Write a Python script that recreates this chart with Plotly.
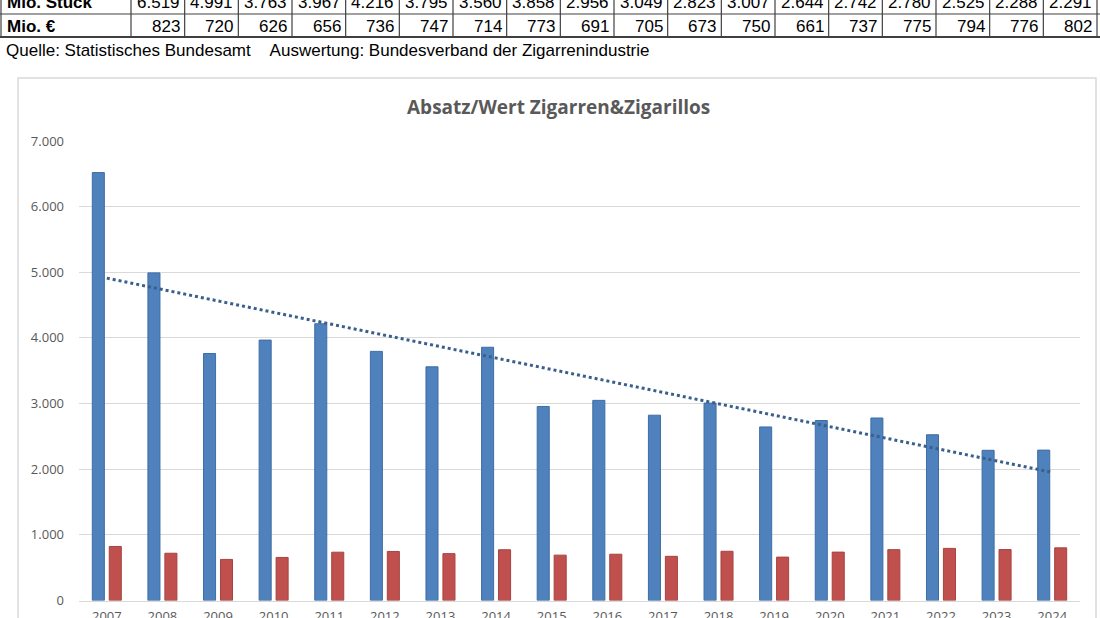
import numpy as np
import plotly.graph_objects as go

years = [str(y) for y in range(2007, 2025)]
stueck = [6519, 4991, 3763, 3967, 4216, 3795, 3560, 3858, 2956, 3049,
          2823, 3007, 2644, 2742, 2780, 2525, 2288, 2291]
euro = [823, 720, 626, 656, 736, 747, 714, 773, 691, 705,
        673, 750, 661, 737, 775, 794, 776, 802]
row_labels = ["Mio. Stück", "Mio. €"]
y_ticks = [0, 1000, 2000, 3000, 4000, 5000, 6000, 7000]
y_ticktext = ["0", "1.000", "2.000", "3.000", "4.000", "5.000", "6.000", "7.000"]

W, H = 1100, 618
def px(x):
    return x / W
def py(y):
    return 1 - y / H

fmt = lambda v: f"{v:,}".replace(",", ".")

xs = list(range(len(years)))
coef = np.polyfit(np.arange(1, len(years) + 1), stueck, 1)
trend = np.polyval(coef, np.arange(1, len(years) + 1))

fig = go.Figure()
fig.add_trace(go.Bar(x=xs, y=stueck, name="Mio. Stück",
                     marker=dict(color="#4F81BD", line=dict(color="#3E6DA6", width=1))))
fig.add_trace(go.Bar(x=xs, y=euro, name="Mio. €",
                     marker=dict(color="#C0504D", line=dict(color="#A8423F", width=1))))
fig.add_trace(go.Scatter(x=xs, y=trend, mode="lines", name="Trend",
                         line=dict(color="#3A5F8C", width=3, dash="dot")))

shapes = []
annotations = []

# chart box
shapes.append(dict(type="rect", xref="paper", yref="paper",
                   x0=px(18), x1=px(1096), y0=py(640), y1=py(78),
                   line=dict(color="#D9D9D9", width=1.5), fillcolor="rgba(0,0,0,0)", layer="below"))

# table
label_w = 131
col_w = (1097 - label_w) / len(years)
tc = "#404040"
shapes.append(dict(type="line", xref="paper", yref="paper",
                   x0=0, x1=px(1100), y0=py(14), y1=py(14), line=dict(color=tc, width=1.2)))
shapes.append(dict(type="line", xref="paper", yref="paper",
                   x0=0, x1=px(1100), y0=py(37), y1=py(37), line=dict(color=tc, width=2.2)))
xb = [label_w + i * col_w for i in range(len(years) + 1)]
for xv in [1] + xb:
    shapes.append(dict(type="line", xref="paper", yref="paper",
                       x0=px(xv), x1=px(xv), y0=py(-2), y1=py(37), line=dict(color=tc, width=1.2)))

rows = [stueck, euro]
row_centers = [3, 26]
for lab, vals, yc in zip(row_labels, rows, row_centers):
    annotations.append(dict(x=px(5), y=py(yc), xref="paper", yref="paper",
                            text=f"<b>{lab}</b>", showarrow=False, xanchor="left", yanchor="middle",
                            font=dict(family="Liberation Sans, Arial", size=17, color="#000")))
    for i, v in enumerate(vals):
        annotations.append(dict(x=px(xb[i + 1] - 3), y=py(yc), xref="paper", yref="paper",
                                text=fmt(v), showarrow=False, xanchor="right", yanchor="middle",
                                font=dict(family="Liberation Sans, Arial", size=17, color="#000")))

annotations.append(dict(x=px(4), y=py(51), xref="paper", yref="paper",
                        text="Quelle: Statistisches Bundesamt&nbsp;&nbsp;&nbsp;&nbsp;Auswertung: Bundesverband der Zigarrenindustrie",
                        showarrow=False, xanchor="left", yanchor="middle",
                        font=dict(family="Liberation Sans, Arial", size=17, color="#000")))

annotations.append(dict(x=px(558), y=py(107), xref="paper", yref="paper",
                        text="<b>Absatz/Wert Zigarren&Zigarillos</b>", showarrow=False,
                        xanchor="center", yanchor="middle",
                        font=dict(family="Open Sans", size=19, color="#595959")))

fig.update_layout(
    width=W, height=H,
    margin=dict(l=0, r=0, t=0, b=0, autoexpand=False),
    paper_bgcolor="white", plot_bgcolor="white",
    showlegend=False,
    barmode="group", bargap=0.39, bargroupgap=0.29,
    shapes=shapes, annotations=annotations,
    xaxis=dict(domain=[px(79), px(1080)], range=[-0.5, len(years) - 0.5],
               tickvals=xs, ticktext=years, showgrid=False, zeroline=False,
               showline=True, linecolor="#D9D9D9", linewidth=1, ticks="",
               automargin=False,
               tickfont=dict(family="Open Sans", size=13, color="#595959"),
               ticklabelstandoff=4),
    yaxis=dict(domain=[py(600.5), py(141)], range=[0, 7000],
               tickvals=y_ticks, ticktext=y_ticktext,
               showgrid=True, gridcolor="#D9D9D9", gridwidth=1, zeroline=False,
               showline=False, ticks="", automargin=False,
               tickfont=dict(family="Open Sans", size=13, color="#595959"),
               ticklabelstandoff=14),
)

fig.write_html("out.html")
